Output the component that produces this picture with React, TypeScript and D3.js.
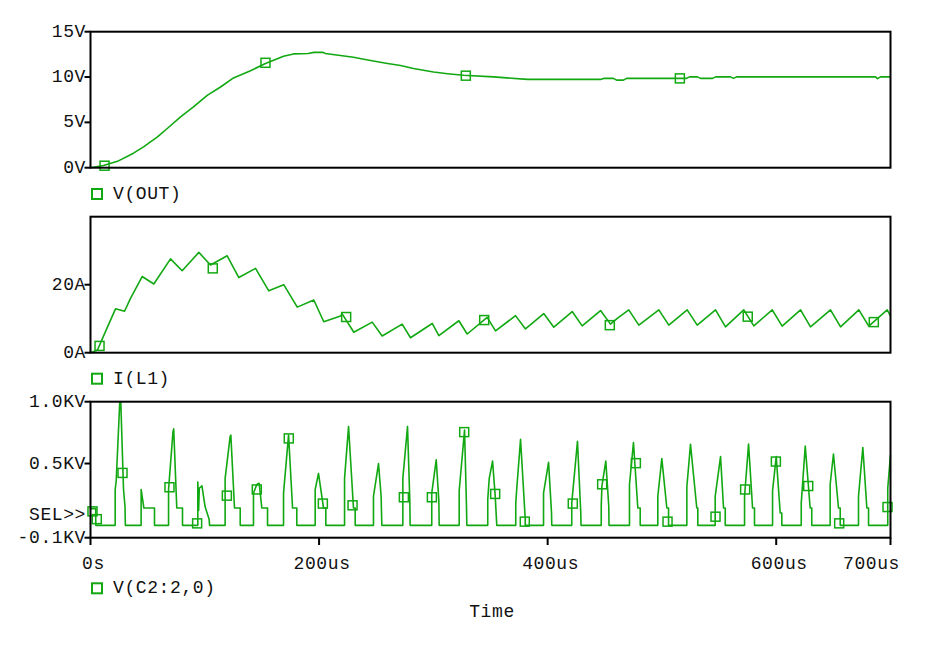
import React from 'react';
import * as d3 from 'd3';

// time axis (us)
const timeTicks = [0, 200, 400, 600, 700];
const timeTickLabels = ['0s', '200us', '400us', '600us', '700us'];

// V(OUT) in volts
const vOutTicks = [0, 5, 10, 15];
const vOutTickLabels = ['0V', '5V', '10V', '15V'];
const vOut: [number, number][] = [
  [0, 0], [11.4, 0.25], [23.6, 0.7], [37.6, 1.6], [46.4, 2.3], [58.6, 3.4], [67.4, 4.35],
  [78.8, 5.6], [90.1, 6.7], [102.4, 8.0], [113.8, 8.9], [125.1, 9.9], [140, 10.7],
  [153.1, 11.5], [168.9, 12.3], [177.6, 12.55], [190.5, 12.6], [195.5, 12.72], [203.5, 12.72],
  [205.5, 12.6], [217, 12.4], [230.1, 12.18], [245, 11.82], [259.9, 11.5], [271.3, 11.28],
  [282.6, 10.95], [300.1, 10.55], [312.4, 10.37], [326.4, 10.19], [352.6, 10.02],
  [382.4, 9.74], [446.3, 9.74], [448.9, 9.85], [457.6, 9.85], [460.3, 9.66], [466.4, 9.66],
  [469, 9.85], [521.5, 9.85], [524.1, 10.02], [531.1, 10.02], [533.8, 9.85], [544.3, 9.85],
  [546.9, 10.02], [560, 10.02], [562.6, 9.85], [565.3, 10.02], [686.9, 10.02],
  [688.6, 9.82], [691.3, 10.02], [700, 10.02],
];
const vOutMarks: [number, number][] = [[12.3, 0.22], [153.1, 11.57], [328.4, 10.15], [515.7, 9.85]];

// I(L1) in amps
const iL1Ticks = [0, 20];
const iL1TickLabels = ['0A', '20A'];
const iL1: [number, number][] = [
  [0, 0], [6.1, 0.8], [14.9, 7.6], [21.9, 12.9], [29.8, 12.2], [35, 16], [45.2, 22.4],
  [55.4, 20.2], [70, 27.6], [80.2, 24.1], [94.8, 29.5], [105, 25.8], [119.6, 28.5],
  [129.8, 22.1], [144.4, 24.8], [156, 18.2], [169.1, 20], [180.9, 13.4], [195.4, 15.5],
  [204.1, 9.1], [218.8, 10.8], [220.2, 11.4], [230.4, 6.0], [246.5, 9.0], [255.2, 4.9],
  [272.7, 8.4], [280, 4.4], [299, 8.6], [304.8, 5.0], [322.3, 9.4], [329.6, 5.5],
  [347.1, 10.4], [354.4, 6.4], [371.9, 10.9], [380.6, 7.0], [396.6, 11.5], [405.4, 7.5],
  [421.5, 12.1], [430.2, 7.9], [446.3, 12.4], [455, 8.4], [460.9, 10.1], [471, 12.6],
  [479.8, 8.1], [497.3, 12.6], [506, 8.1], [522.1, 12.6], [530.9, 8.1], [546.9, 12.6],
  [555.6, 7.6], [571.6, 12.6], [580.4, 7.9], [596.5, 12.6], [605.2, 7.8], [621.3, 12.6],
  [630, 7.6], [647.5, 12.6], [656.3, 7.6], [672.3, 12.6], [681, 7.8], [697.1, 12.6],
  [700, 10.8],
];
const iL1Marks: [number, number][] = [
  [7.9, 2.0], [107, 24.8], [223.7, 10.5], [344.5, 9.6], [454.4, 8.1], [575.1, 10.6], [685.4, 9.0],
];

// V(C2:2,0) in kV
const vC2Ticks = [-0.1, 0.5, 1.0];
const vC2TickLabels = ['-0.1KV', '0.5KV', '1.0KV'];
const vC2: [number, number][] = [
  [0, 0.135], [4.6, 0.135], [4.6, 0],
  [21.6, 0], [21.6, 0.29], [22.5, 0.36], [25.6, 1.0], [26.5, 1.0], [28.9, 0.29], [30.2, 0.15], [30.5, 0],
  [44.3, 0], [44.3, 0.29], [46.4, 0.16], [46.6, 0.14], [56, 0.14], [56, 0],
  [68.3, 0], [68.3, 0.29], [72.2, 0.76], [72.8, 0.78], [75.5, 0.14], [80.5, 0.14], [80.5, 0],
  [93.9, 0], [93.9, 0.35], [94.6, 0.12], [95.2, 0.3], [97.5, 0.32], [100.3, 0.15], [103.8, 0.05], [104.2, 0],
  [117.8, 0], [117.8, 0.38], [122.2, 0.72], [122.8, 0.73], [126, 0.14], [131, 0.14], [131, 0],
  [142.6, 0], [142.6, 0.26], [145.5, 0.33], [147.6, 0.34], [149.9, 0.14], [154.9, 0.14], [154.9, 0],
  [168.9, 0], [168.9, 0.26], [173.3, 0.73], [176.8, 0.14], [180.5, 0.14], [180.5, 0],
  [196.6, 0], [196.6, 0.29], [199.5, 0.42], [203.9, 0.14], [205.9, 0.14], [205.9, 0],
  [222.3, 0], [222.3, 0.38], [225.8, 0.8], [230.1, 0.14], [231.6, 0.14], [231.6, 0],
  [247.6, 0], [247.6, 0.235], [252, 0.5], [254.3, 0.235], [254.9, 0],
  [273.3, 0], [273.3, 0.38], [277.4, 0.8], [279.4, 0.2], [279.7, 0],
  [298.6, 0], [298.6, 0.26], [302.5, 0.53], [304.8, 0.2], [305.1, 0],
  [322.6, 0], [322.6, 0.28], [327.3, 0.77], [329, 0.15], [329.3, 0],
  [347.6, 0], [347.6, 0.21], [348.9, 0.38], [351.8, 0.52], [354.1, 0.24], [355.5, 0],
  [372.1, 0], [372.1, 0.18], [373, 0.3], [376.3, 0.695], [380.4, 0.05], [380.4, 0],
  [396.4, 0], [396.4, 0.26], [400.8, 0.51], [403.4, 0.1], [403.6, 0],
  [421.1, 0], [421.1, 0.18], [426.1, 0.68], [429, 0.1], [429.2, 0],
  [446.9, 0], [446.9, 0.16], [447.5, 0.32], [450.9, 0.52], [453.5, 0.15], [453.7, 0],
  [471.6, 0], [471.6, 0.33], [475.1, 0.67], [478.9, 0.14], [481, 0.14], [481, 0],
  [496.4, 0], [496.4, 0.235], [499.9, 0.54], [504.3, 0.14], [505.8, 0.14], [505.8, 0],
  [521.8, 0], [521.8, 0.31], [525, 0.655], [530.5, 0.14], [531.4, 0.14], [531.4, 0],
  [546.6, 0], [546.6, 0.235], [551.3, 0.556], [553.9, 0.14], [555.4, 0.14], [555.4, 0],
  [572.3, 0], [572.3, 0.235], [575.8, 0.658], [579.3, 0.14], [581, 0.14], [581, 0],
  [596.8, 0], [596.8, 0.28], [600, 0.556], [603.5, 0.1], [604.9, 0.1], [604.9, 0],
  [621.9, 0], [621.9, 0.18], [625.4, 0.642], [629.7, 0.14], [631.1, 0.14], [631.1, 0],
  [647.2, 0], [647.2, 0.33], [650.1, 0.577], [654.5, 0.14], [656, 0.14], [656, 0],
  [672, 0], [672, 0.235], [675.8, 0.63], [679.3, 0.14], [680.8, 0.14], [680.8, 0],
  [697.6, 0], [697.6, 0.3], [700, 0.57],
];
const vC2Marks: [number, number][] = [
  [1.75, 0.113], [5.5, 0.05], [28, 0.424], [69.1, 0.308], [93.3, 0.016], [119.3, 0.24],
  [145.5, 0.29], [173.5, 0.703], [203.3, 0.176], [229.3, 0.162], [274.2, 0.227],
  [298.7, 0.227], [327, 0.754], [354.1, 0.254], [380, 0.03], [422, 0.176], [447.7, 0.332],
  [477.2, 0.503], [504.9, 0.03], [546.9, 0.07], [572.8, 0.29], [599.7, 0.516], [628, 0.318],
  [655.1, 0.016], [697.4, 0.148],
];

const GREEN = '#12a812';
const FONT = '"Liberation Mono", monospace';
const LEFT = 90.5;
const RIGHT = 890.5;
const PANEL_H = 136;

const x = d3.scaleLinear().domain([0, 700]).range([LEFT, RIGHT]);

const panels = [
  { top: 31.7, domain: [0, 15], ticks: vOutTicks, labels: vOutTickLabels, data: vOut, marks: vOutMarks, legend: 'V(OUT)', legendY: 194 },
  { top: 216.7, domain: [0, 40], ticks: iL1Ticks, labels: iL1TickLabels, data: iL1, marks: iL1Marks, legend: 'I(L1)', legendY: 378.7 },
  { top: 401.7, domain: [-0.1, 1.0], ticks: vC2Ticks, labels: vC2TickLabels, data: vC2, marks: vC2Marks, legend: 'V(C2:2,0)', legendY: 588.3 },
];

const textStyle = { fontFamily: FONT, fontSize: 18, letterSpacing: 0.6, fill: '#111' };

export default function App() {
  return (
    <svg width={936} height={645} style={{ position: 'absolute', left: 0, top: 0, background: '#fff' }}>
      {panels.map((p, i) => {
        const y = d3.scaleLinear().domain(p.domain).range([p.top + PANEL_H, p.top]);
        const line = d3.line<[number, number]>().x((d) => x(d[0])).y((d) => y(d[1]));
        const last = i === panels.length - 1;
        return (
          <g key={i}>
            <path d={line(p.data) ?? ''} fill="none" stroke={GREEN} strokeWidth={1.6} strokeLinejoin="round" />
            {p.marks.map((m, j) => (
              <rect key={j} x={x(m[0]) - 4.5} y={y(m[1]) - 4.5} width={9} height={9} fill="none" stroke={GREEN} strokeWidth={1.5} />
            ))}
            <rect x={LEFT} y={p.top} width={RIGHT - LEFT} height={PANEL_H} fill="none" stroke="#000" strokeWidth={2} />
            {p.ticks.map((t, j) => (
              <g key={j}>
                <line x1={LEFT - 6} x2={LEFT} y1={y(t)} y2={y(t)} stroke="#000" strokeWidth={2} />
                <text x={86} y={y(t)} textAnchor="end" dominantBaseline="central" style={textStyle}>{p.labels[j]}</text>
              </g>
            ))}
            <rect x={92} y={p.legendY - 5} width={10} height={10} fill="none" stroke={GREEN} strokeWidth={2} />
            <text x={113} y={p.legendY} dominantBaseline="central" style={textStyle}>{p.legend}</text>
            {last && (
              <text x={86} y={515} textAnchor="end" dominantBaseline="central" style={textStyle}>SEL&gt;&gt;</text>
            )}
          </g>
        );
      })}
      {timeTicks.map((t, j) => {
        const lastTick = j === timeTicks.length - 1;
        return (
          <g key={j}>
            <line x1={x(t)} x2={x(t)} y1={537.7} y2={545} stroke="#000" strokeWidth={2} />
            <text
              x={lastTick ? 900 : x(t) + 3}
              y={563.5}
              textAnchor={lastTick ? 'end' : 'middle'}
              dominantBaseline="central"
              style={textStyle}
            >
              {timeTickLabels[j]}
            </text>
          </g>
        );
      })}
      <text x={492} y={611.7} textAnchor="middle" dominantBaseline="central" style={textStyle}>Time</text>
    </svg>
  );
}
